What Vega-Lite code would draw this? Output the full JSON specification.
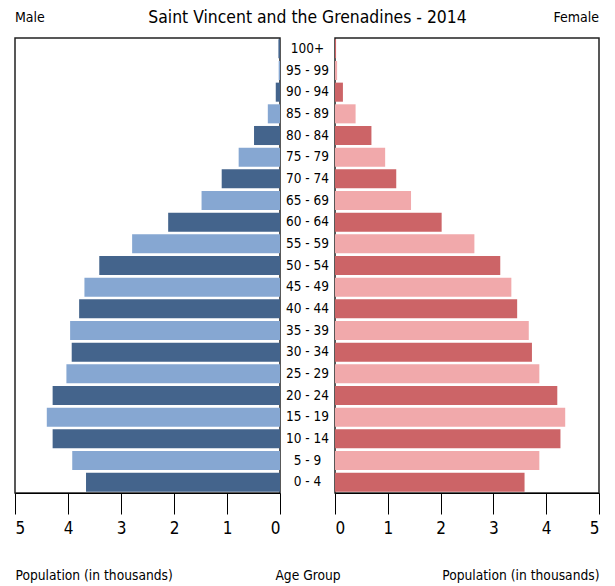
{
  "$schema": "https://vega.github.io/schema/vega-lite/v6.json",
  "autosize": {"type": "pad"},
  "padding": {"left": 13, "top": 8, "right": 5, "bottom": 5},
  "spacing": 0,
  "bounds": "flush",
  "config": {
    "font": "DejaVu Sans Condensed, DejaVu Sans",
    "view": {"stroke": "#222", "strokeWidth": 1.5},
    "axis": {"domainColor": "#000", "tickColor": "#000", "labelColor": "#000", "titleColor": "#000", "grid": false, "tickSize": 21, "labelFontSize": 17, "labelPadding": 6, "titleFontSize": 13.7, "titleFontWeight": "normal", "titleY": 86, "titleBaseline": "alphabetic", "domainWidth": 1, "tickWidth": 1},
    "title": {"fontWeight": "normal", "color": "#000", "frame": "group"}
  },
  "datasets": {
    "pop": [
      {"age": "0 - 4", "sex": "Male", "value": 3.66},
      {"age": "5 - 9", "sex": "Male", "value": 3.92},
      {"age": "10 - 14", "sex": "Male", "value": 4.29},
      {"age": "15 - 19", "sex": "Male", "value": 4.40},
      {"age": "20 - 24", "sex": "Male", "value": 4.29},
      {"age": "25 - 29", "sex": "Male", "value": 4.03},
      {"age": "30 - 34", "sex": "Male", "value": 3.93},
      {"age": "35 - 39", "sex": "Male", "value": 3.96},
      {"age": "40 - 44", "sex": "Male", "value": 3.79},
      {"age": "45 - 49", "sex": "Male", "value": 3.69},
      {"age": "50 - 54", "sex": "Male", "value": 3.41},
      {"age": "55 - 59", "sex": "Male", "value": 2.79},
      {"age": "60 - 64", "sex": "Male", "value": 2.11},
      {"age": "65 - 69", "sex": "Male", "value": 1.48},
      {"age": "70 - 74", "sex": "Male", "value": 1.10},
      {"age": "75 - 79", "sex": "Male", "value": 0.78},
      {"age": "80 - 84", "sex": "Male", "value": 0.49},
      {"age": "85 - 89", "sex": "Male", "value": 0.23},
      {"age": "90 - 94", "sex": "Male", "value": 0.08},
      {"age": "95 - 99", "sex": "Male", "value": 0.025},
      {"age": "100+", "sex": "Male", "value": 0.03},
      {"age": "0 - 4", "sex": "Female", "value": 3.59},
      {"age": "5 - 9", "sex": "Female", "value": 3.87},
      {"age": "10 - 14", "sex": "Female", "value": 4.27},
      {"age": "15 - 19", "sex": "Female", "value": 4.36},
      {"age": "20 - 24", "sex": "Female", "value": 4.21},
      {"age": "25 - 29", "sex": "Female", "value": 3.87},
      {"age": "30 - 34", "sex": "Female", "value": 3.73},
      {"age": "35 - 39", "sex": "Female", "value": 3.67},
      {"age": "40 - 44", "sex": "Female", "value": 3.45},
      {"age": "45 - 49", "sex": "Female", "value": 3.34},
      {"age": "50 - 54", "sex": "Female", "value": 3.13},
      {"age": "55 - 59", "sex": "Female", "value": 2.64},
      {"age": "60 - 64", "sex": "Female", "value": 2.02},
      {"age": "65 - 69", "sex": "Female", "value": 1.44},
      {"age": "70 - 74", "sex": "Female", "value": 1.16},
      {"age": "75 - 79", "sex": "Female", "value": 0.95},
      {"age": "80 - 84", "sex": "Female", "value": 0.69},
      {"age": "85 - 89", "sex": "Female", "value": 0.39},
      {"age": "90 - 94", "sex": "Female", "value": 0.15},
      {"age": "95 - 99", "sex": "Female", "value": 0.04},
      {"age": "100+", "sex": "Female", "value": 0.02}
    ]
  },
  "hconcat": [
    {
      "width": 265, "height": 455,
      "title": {"text": "Male", "anchor": "start", "fontSize": 14, "offset": 13},
      "data": {"name": "pop"},
      "transform": [{"filter": "datum.sex === 'Male'"}],
      "mark": {"type": "bar"},
      "encoding": {
        "y": {"field": "age", "type": "nominal", "axis": null,
              "sort": ["100+", "95 - 99", "90 - 94", "85 - 89", "80 - 84", "75 - 79", "70 - 74", "65 - 69", "60 - 64", "55 - 59", "50 - 54", "45 - 49", "40 - 44", "35 - 39", "30 - 34", "25 - 29", "20 - 24", "15 - 19", "10 - 14", "5 - 9", "0 - 4"],
              "scale": {"paddingInner": 0.12, "paddingOuter": 0.06}},
        "x": {"field": "value", "type": "quantitative", "scale": {"domain": [0, 5], "reverse": true},
              "axis": {"title": "Population (in thousands)", "titleAnchor": "end", "titleAlign": "left", "values": [0, 1, 2, 3, 4, 5], "format": "d"}},
        "color": {"field": "age", "type": "nominal", "legend": null,
                  "scale": {"domain": ["0 - 4", "5 - 9", "10 - 14", "15 - 19", "20 - 24", "25 - 29", "30 - 34", "35 - 39", "40 - 44", "45 - 49", "50 - 54", "55 - 59", "60 - 64", "65 - 69", "70 - 74", "75 - 79", "80 - 84", "85 - 89", "90 - 94", "95 - 99", "100+"],
                            "range": ["#44648c", "#86a7d2", "#44648c", "#86a7d2", "#44648c", "#86a7d2", "#44648c", "#86a7d2", "#44648c", "#86a7d2", "#44648c", "#86a7d2", "#44648c", "#86a7d2", "#44648c", "#86a7d2", "#44648c", "#86a7d2", "#44648c", "#86a7d2", "#44648c"]}}
      }
    },
    {
      "width": 55, "height": 455,
      "title": {"text": "Saint Vincent and the Grenadines - 2014", "anchor": "middle", "fontSize": 17.4, "offset": 12},
      "view": {"stroke": null},
      "data": {"name": "pop"},
      "transform": [{"filter": "datum.sex === 'Male'"}],
      "mark": {"type": "text", "fontSize": 13.5, "color": "#000"},
      "encoding": {
        "y": {"field": "age", "type": "nominal", "axis": null,
              "sort": ["100+", "95 - 99", "90 - 94", "85 - 89", "80 - 84", "75 - 79", "70 - 74", "65 - 69", "60 - 64", "55 - 59", "50 - 54", "45 - 49", "40 - 44", "35 - 39", "30 - 34", "25 - 29", "20 - 24", "15 - 19", "10 - 14", "5 - 9", "0 - 4"],
              "scale": {"paddingInner": 0.12, "paddingOuter": 0.06}},
        "x": {"datum": 0, "type": "quantitative", "scale": {"domain": [-1, 1]},
              "axis": {"title": "Age Group", "labels": false, "ticks": false, "domain": false}},
        "text": {"field": "age", "type": "nominal"}
      }
    },
    {
      "width": 264, "height": 455,
      "title": {"text": "Female", "anchor": "end", "fontSize": 14, "offset": 13},
      "data": {"name": "pop"},
      "transform": [{"filter": "datum.sex === 'Female'"}],
      "mark": {"type": "bar"},
      "encoding": {
        "y": {"field": "age", "type": "nominal", "axis": null,
              "sort": ["100+", "95 - 99", "90 - 94", "85 - 89", "80 - 84", "75 - 79", "70 - 74", "65 - 69", "60 - 64", "55 - 59", "50 - 54", "45 - 49", "40 - 44", "35 - 39", "30 - 34", "25 - 29", "20 - 24", "15 - 19", "10 - 14", "5 - 9", "0 - 4"],
              "scale": {"paddingInner": 0.12, "paddingOuter": 0.06}},
        "x": {"field": "value", "type": "quantitative", "scale": {"domain": [0, 5]},
              "axis": {"title": "Population (in thousands)", "titleAnchor": "end", "values": [0, 1, 2, 3, 4, 5], "format": "d"}},
        "color": {"field": "age", "type": "nominal", "legend": null,
                  "scale": {"domain": ["0 - 4", "5 - 9", "10 - 14", "15 - 19", "20 - 24", "25 - 29", "30 - 34", "35 - 39", "40 - 44", "45 - 49", "50 - 54", "55 - 59", "60 - 64", "65 - 69", "70 - 74", "75 - 79", "80 - 84", "85 - 89", "90 - 94", "95 - 99", "100+"],
                            "range": ["#cc6467", "#f1a9ab", "#cc6467", "#f1a9ab", "#cc6467", "#f1a9ab", "#cc6467", "#f1a9ab", "#cc6467", "#f1a9ab", "#cc6467", "#f1a9ab", "#cc6467", "#f1a9ab", "#cc6467", "#f1a9ab", "#cc6467", "#f1a9ab", "#cc6467", "#f1a9ab", "#cc6467"]}}
      }
    }
  ],
  "resolve": {"scale": {"x": "independent", "y": "independent", "color": "independent"}}
}
